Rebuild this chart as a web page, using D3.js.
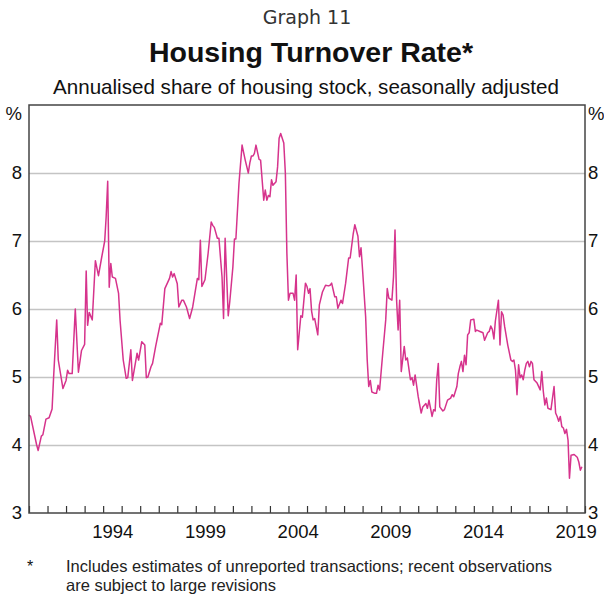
<!DOCTYPE html>
<html>
<head>
<meta charset="utf-8">
<script src="https://cdn.jsdelivr.net/npm/d3@7"></script>
<style>
  html, body { margin: 0; padding: 0; background: #fff; }
  svg text { font-family: "Liberation Sans", Arial, sans-serif; fill: #111; }
</style>
</head>
<body>
<svg id="chart" width="604" height="604"></svg>
<script>
var months = [
  "1990-01","1990-02","1990-06","1990-07","1990-09","1990-10","1990-12",
  "1991-02","1991-04","1991-05","1991-07","1991-08","1991-11",
  "1992-01","1992-02","1992-03","1992-05","1992-07","1992-09","1992-11",
  "1993-01","1993-02","1993-03","1993-04","1993-06","1993-08","1993-10","1993-12",
  "1994-02","1994-03","1994-04","1994-05","1994-06","1994-07","1994-09","1994-11","1994-12",
  "1995-02","1995-04","1995-05","1995-07","1995-08","1995-11","1995-12",
  "1996-02","1996-04","1996-05","1996-06","1996-08","1996-09","1996-11",
  "1997-02","1997-03","1997-05","1997-08","1997-09","1997-10","1997-11",
  "1998-01","1998-02","1998-04","1998-05","1998-07","1998-09","1998-11",
  "1999-02","1999-03","1999-04","1999-05","1999-07","1999-09","1999-11","1999-12",
  "2000-01","2000-03","2000-04","2000-06","2000-07","2000-08","2000-10","2000-11",
  "2001-01","2001-02","2001-03","2001-05","2001-07","2001-09","2001-11","2001-12",
  "2002-01","2002-02","2002-03","2002-04","2002-06","2002-07","2002-09","2002-10","2002-11","2002-12",
  "2003-01","2003-02","2003-03","2003-05","2003-06","2003-07","2003-08","2003-10","2003-11","2003-12",
  "2004-01","2004-02","2004-04","2004-05","2004-06","2004-07","2004-09","2004-10","2004-12",
  "2005-01","2005-02","2005-03","2005-04","2005-05","2005-06","2005-08","2005-09","2005-11",
  "2006-01","2006-03","2006-04","2006-05","2006-07","2006-08","2006-09","2006-11","2006-12",
  "2007-02","2007-04","2007-05","2007-07","2007-08","2007-10","2007-11","2007-12",
  "2008-01","2008-03","2008-04","2008-05","2008-06","2008-07","2008-09","2008-10","2008-11","2008-12",
  "2009-02","2009-04","2009-05","2009-06","2009-08","2009-09","2009-10","2009-11","2009-12",
  "2010-01","2010-02","2010-04","2010-05","2010-06","2010-08","2010-09","2010-10","2010-11",
  "2011-01","2011-03","2011-04","2011-06","2011-07","2011-08","2011-10","2011-11","2011-12",
  "2012-01","2012-02","2012-03","2012-05","2012-06","2012-08","2012-10","2012-11","2012-12",
  "2013-02","2013-03","2013-04","2013-05","2013-06","2013-07","2013-08","2013-09","2013-10","2013-11",
  "2014-01","2014-02","2014-03","2014-05","2014-07","2014-08","2014-10","2014-11","2014-12",
  "2015-01","2015-02","2015-03","2015-05","2015-06","2015-07","2015-08","2015-09","2015-11",
  "2016-01","2016-02","2016-03","2016-04","2016-05","2016-06","2016-07","2016-08","2016-09","2016-10","2016-11","2016-12",
  "2017-01","2017-02","2017-03","2017-04","2017-06","2017-08","2017-09","2017-10","2017-11","2017-12",
  "2018-01","2018-03","2018-05","2018-06","2018-07","2018-08","2018-09","2018-10","2018-11","2018-12",
  "2019-01","2019-02","2019-03","2019-04","2019-06","2019-08","2019-09","2019-10","2019-11"
];

var turnover = [
  4.44,4.42,4.00,3.92,4.13,4.15,4.38,
  4.40,4.53,5.00,5.84,5.25,4.83,
  4.95,5.10,5.05,5.05,6.00,5.07,5.39,
  5.48,6.56,5.76,5.95,5.84,6.71,6.49,6.75,
  7.00,7.35,7.88,6.32,6.67,6.47,6.45,6.23,5.83,
  5.25,4.98,4.99,5.40,4.95,5.35,5.25,
  5.52,5.47,4.99,5.00,5.15,5.20,5.45,
  5.79,5.77,6.30,6.45,6.55,6.47,6.52,
  6.37,6.03,6.13,6.13,6.03,5.86,6.03,
  6.45,6.43,7.01,6.33,6.43,6.82,7.28,7.23,
  7.20,7.04,7.04,6.47,5.86,7.04,5.90,6.11,
  6.62,7.03,7.03,7.85,8.41,8.19,8.00,8.15,
  8.25,8.25,8.29,8.41,8.20,8.19,7.60,7.75,7.60,7.67,
  7.65,7.90,7.82,7.87,8.09,8.51,8.58,8.44,8.00,6.82,
  6.13,6.23,6.23,6.13,6.50,5.40,5.90,5.88,6.38,
  6.33,6.23,6.30,5.97,5.84,5.86,5.62,6.06,6.25,
  6.35,6.34,6.35,6.38,6.18,6.18,6.01,6.13,6.08,
  6.38,6.75,6.75,7.11,7.24,7.07,6.77,6.90,
  6.57,5.89,5.25,4.86,4.95,4.78,4.76,4.76,4.88,4.81,
  5.35,5.84,6.30,6.16,6.13,6.47,7.16,6.13,5.69,
  6.13,5.08,5.45,5.25,5.28,4.96,4.99,4.88,5.03,
  4.71,4.47,4.56,4.61,4.54,4.66,4.42,4.52,4.50,
  4.96,5.20,4.56,4.50,4.52,4.66,4.69,4.74,4.71,
  4.86,5.05,5.15,5.23,5.08,5.32,5.18,5.62,5.65,5.84,
  5.85,5.67,5.69,5.67,5.65,5.54,5.65,5.67,5.75,
  5.70,5.56,5.82,6.13,5.47,5.96,5.91,5.74,5.47,
  5.25,5.23,5.25,5.10,4.74,5.18,4.99,5.03,4.96,5.10,5.20,5.23,
  5.15,5.23,5.20,4.96,4.91,4.81,5.08,4.79,4.59,4.69,
  4.54,4.52,4.86,4.47,4.42,4.35,4.42,4.27,4.25,4.17,
  4.23,4.07,3.51,3.85,3.86,3.82,3.75,3.63,3.68
];

var yTicks = [3, 4, 5, 6, 7, 8];
var gridValues = [4, 5, 6, 7, 8];
var yearLabels = [1994, 1999, 2004, 2009, 2014, 2019];

var svg = d3.select("#chart");
var margin = { left: 29, right: 19, top: 105, bottom: 91 };
var width = 604 - margin.left - margin.right;
var height = 604 - margin.top - margin.bottom;
var labelFont = "18.5px";

var parseMonth = d3.timeParse("%Y-%m");
var data = months.map(function(m, i) {
  return { date: parseMonth(m), value: turnover[i] };
});

var x = d3.scaleTime()
  .domain([new Date(1990, 0, 1), new Date(2020, 0, 1)])
  .range([0, width]);
var y = d3.scaleLinear()
  .domain([3, 9])
  .range([height, 0]);

// titles
svg.append("text")
  .attr("x", 307).attr("y", 24)
  .attr("text-anchor", "middle")
  .style("font-family", "'DejaVu Sans', sans-serif")
  .style("font-size", "19px")
  .style("fill", "#333")
  .text("Graph 11");

svg.append("text")
  .attr("x", 311).attr("y", 62)
  .attr("text-anchor", "middle")
  .style("font-size", "28.5px")
  .style("font-weight", "bold")
  .text("Housing Turnover Rate*");

svg.append("text")
  .attr("x", 306).attr("y", 94)
  .attr("text-anchor", "middle")
  .style("font-size", "20.6px")
  .text("Annualised share of housing stock, seasonally adjusted");

var g = svg.append("g")
  .attr("transform", "translate(" + margin.left + "," + margin.top + ")");

// horizontal gridlines
g.append("g")
  .attr("class", "grid")
  .call(d3.axisLeft(y).tickValues(gridValues).tickSize(-width).tickFormat(""))
  .call(function(s) {
    s.select(".domain").remove();
    s.selectAll("line").attr("stroke", "#c4c4c4").attr("stroke-width", 1.5);
  });

// year ticks (inside, from the bottom)
g.append("g")
  .attr("transform", "translate(0," + height + ")")
  .call(d3.axisBottom(x).ticks(d3.timeYear.every(1)).tickSize(-7).tickFormat(""))
  .call(function(s) {
    s.select(".domain").remove();
    s.selectAll("line").attr("stroke", "#333").attr("stroke-width", 1.2);
  });

// year labels centred within each year
g.append("g")
  .attr("transform", "translate(0," + height + ")")
  .call(d3.axisBottom(x)
    .tickValues(yearLabels.map(function(yr) { return new Date(yr, 6, 1); }))
    .tickSize(0).tickPadding(12)
    .tickFormat(d3.timeFormat("%Y")))
  .call(function(s) {
    s.select(".domain").remove();
    s.selectAll("text").style("font-size", labelFont).style("font-family", "'Liberation Sans', Arial, sans-serif").attr("fill", "#111");
  });

// left and right value labels
var pctFormat = function(d) { return d === 9 ? "%" : d; };
g.append("g")
  .call(d3.axisLeft(y).tickValues(yTicks.concat([9])).tickSize(0).tickPadding(7).tickFormat(pctFormat))
  .call(function(s) {
    s.select(".domain").remove();
    s.selectAll("text").style("font-size", labelFont).style("font-family", "'Liberation Sans', Arial, sans-serif").attr("fill", "#111")
      .attr("dy", function(d) { return d === 9 ? "0.8em" : "0.32em"; });
  });
g.append("g")
  .attr("transform", "translate(" + width + ",0)")
  .call(d3.axisRight(y).tickValues(yTicks.concat([9])).tickSize(0).tickPadding(3).tickFormat(pctFormat))
  .call(function(s) {
    s.select(".domain").remove();
    s.selectAll("text").style("font-size", labelFont).style("font-family", "'Liberation Sans', Arial, sans-serif").attr("fill", "#111")
      .attr("dy", function(d) { return d === 9 ? "0.8em" : "0.32em"; });
  });

// the series
var line = d3.line()
  .x(function(d) { return x(d.date); })
  .y(function(d) { return y(d.value); });

g.append("path")
  .datum(data)
  .attr("fill", "none")
  .attr("stroke", "#d6338c")
  .attr("stroke-width", 1.5)
  .attr("stroke-linejoin", "round")
  .attr("d", line);

// frame
g.append("rect")
  .attr("width", width).attr("height", height)
  .attr("fill", "none")
  .attr("stroke", "#444")
  .attr("stroke-width", 1.5);

// footnote
svg.append("text")
  .attr("x", 27).attr("y", 572)
  .style("font-size", "16px")
  .text("*");
var note = svg.append("text")
  .attr("x", 66).attr("y", 572)
  .style("font-size", "16.5px")
  .style("fill", "#222");
note.append("tspan").attr("x", 66).text("Includes estimates of unreported transactions; recent observations");
note.append("tspan").attr("x", 66).attr("dy", 19).text("are subject to large revisions");
</script>
</body>
</html>
